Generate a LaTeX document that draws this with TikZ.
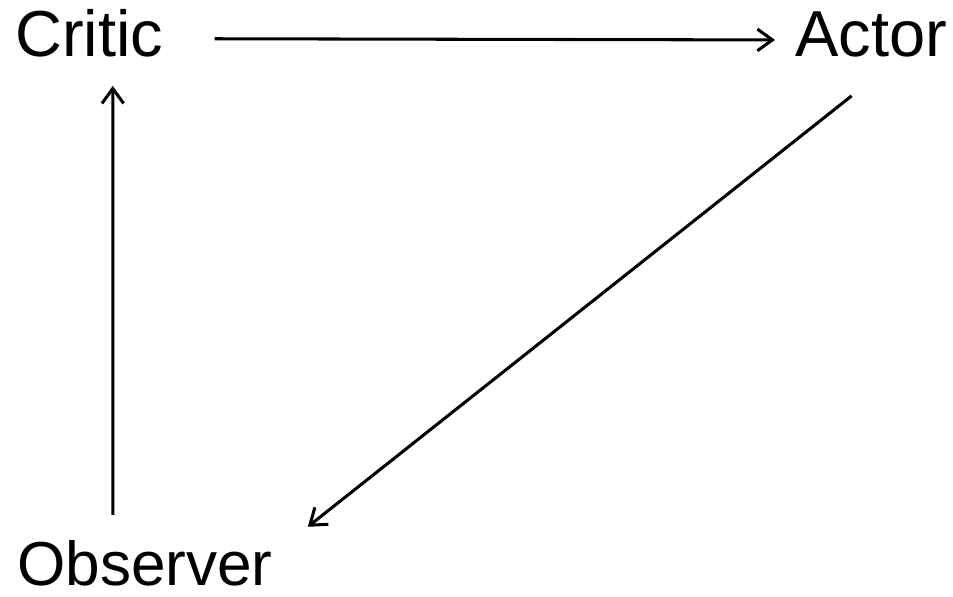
\documentclass[tikz,border=0pt]{standalone}
\usepackage{fontspec}
\setmainfont{Liberation Sans}
\usetikzlibrary{arrows.meta}

\begin{document}
\begin{tikzpicture}[x=0.03cm, y=-0.03cm, every node/.style={font=\fontsize{55.5}{62}\selectfont, inner sep=0pt}, flow/.style={line width=2.6pt, -{Straight Barb[length=0.45cm, width=0.65cm, line width=2.6pt]}}]
	\useasboundingbox (0,0) rectangle (953,597);
	\node[anchor=base west] (critic) at (15,57) {Critic};
	\node[anchor=base west] (actor) at (795,57) {Actor};
	\node[anchor=base west, font=\fontsize{53}{60}\selectfont] (observer) at (17,585) {Observer};
	\draw[flow] ([shift={(51,5)}]critic.east) -- ([shift={(-20,5)}]actor.west);
	\draw[flow] ([shift={(-19.5,38)}]actor.south) -- ([shift={(35,-13)}]observer.north east);
	\draw[flow] ([shift={(-32,-25)}]observer.north) -- ([shift={(23.5,28)}]critic.south);
\end{tikzpicture}
\end{document}
